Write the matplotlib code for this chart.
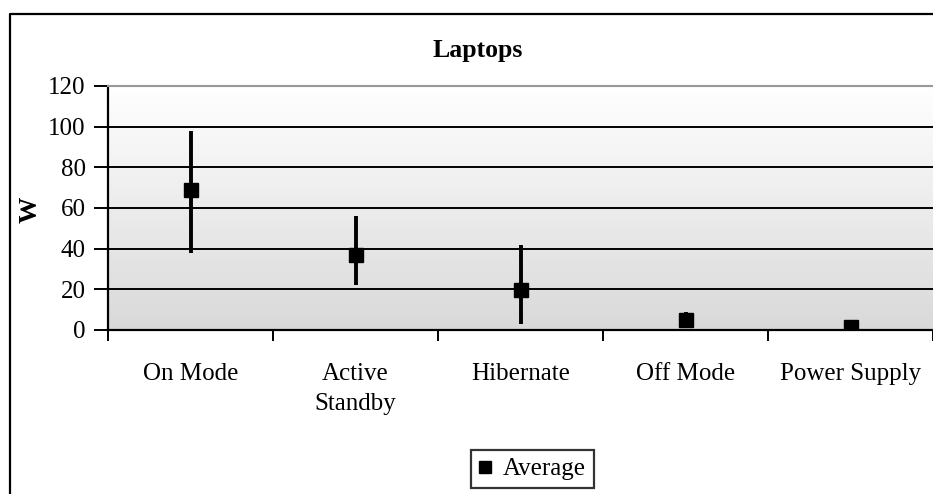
import matplotlib
matplotlib.use("Agg")
import matplotlib.pyplot as plt
import numpy as np
from matplotlib.lines import Line2D

categories = ["On Mode", "Active\nStandby", "Hibernate", "Off Mode", "Power Supply"]
average = [69, 37, 19.5, 5, 1.5]
high = [98, 56, 42, 9, 1.5]
low = [38, 22, 3, 3, 1.5]
yticks = [0, 20, 40, 60, 80, 100, 120]

plt.rcParams['font.family'] = ['Liberation Serif', 'DejaVu Serif']

W, H = 933, 494
fig = plt.figure(figsize=(W / 100, H / 100), dpi=100)
ax = fig.add_axes([108 / W, 1 - 330 / H, 825 / W, 244 / H])

# gradient background
grad = np.linspace(1, 0, 256).reshape(-1, 1)
cmap = matplotlib.colors.LinearSegmentedColormap.from_list("g", ["#d9d9d9", "#ffffff"])
ax.imshow(grad, extent=[0, 1, 0, 1], transform=ax.transAxes, cmap=cmap,
          aspect="auto", zorder=0, origin="upper", vmin=0, vmax=1)

x = np.arange(len(categories))
ax.set_xlim(-0.5, len(categories) - 0.5)
ax.set_ylim(0, 120)

for v in yticks[1:-1]:
    ax.axhline(v, color="black", lw=1.4, zorder=1)

ax.vlines(x, low, high, color="black", lw=2.8, zorder=3)
ax.plot(x, average, linestyle="none", marker="s", markersize=10, color="black", zorder=4, label="Average")

ax.set_yticks(yticks)
ax.set_yticklabels([str(v) for v in yticks], fontsize=18)
ax.tick_params(axis="y", direction="out", length=10, width=1.4, pad=6)
ax.set_xticks(np.arange(-0.5, len(categories) + 0.5, 1))
ax.set_xticklabels([])
ax.set_xticks(x, minor=True)
ax.set_xticklabels(categories, minor=True, fontsize=18, va="top", linespacing=1.45)
ax.tick_params(axis="x", which="major", direction="out", length=8, width=1.4)
ax.tick_params(axis="x", which="minor", length=0, pad=24)

for s in ["left", "bottom"]:
    ax.spines[s].set_linewidth(1.6)
    ax.spines[s].set_color("black")
ax.spines["top"].set_color("#999999")
ax.spines["top"].set_linewidth(1.5)
ax.spines["right"].set_visible(False)

fig.text(478 / W, 1 - 50 / H, "Laptops", ha="center", va="center", fontsize=18.5, fontweight="bold")
fig.text(30 / W, 1 - 210 / H, "W", ha="center", va="center", fontsize=19, fontweight="bold", rotation=90)

# outer chart border
fig.add_artist(Line2D([10 / W, 10 / W, 1], [0, 1 - 14 / H, 1 - 14 / H], color="black", lw=1.6,
                      transform=fig.transFigure))

leg = fig.legend(loc="center", bbox_to_anchor=(532 / W, 1 - 469 / H), fontsize=18,
                 frameon=True, fancybox=False, handlelength=0.55, handletextpad=0.45,
                 borderpad=0.3, markerscale=0.9)
leg.get_frame().set_edgecolor("black")
leg.get_frame().set_linewidth(1.6)

fig.savefig("out.png", dpi=100)
